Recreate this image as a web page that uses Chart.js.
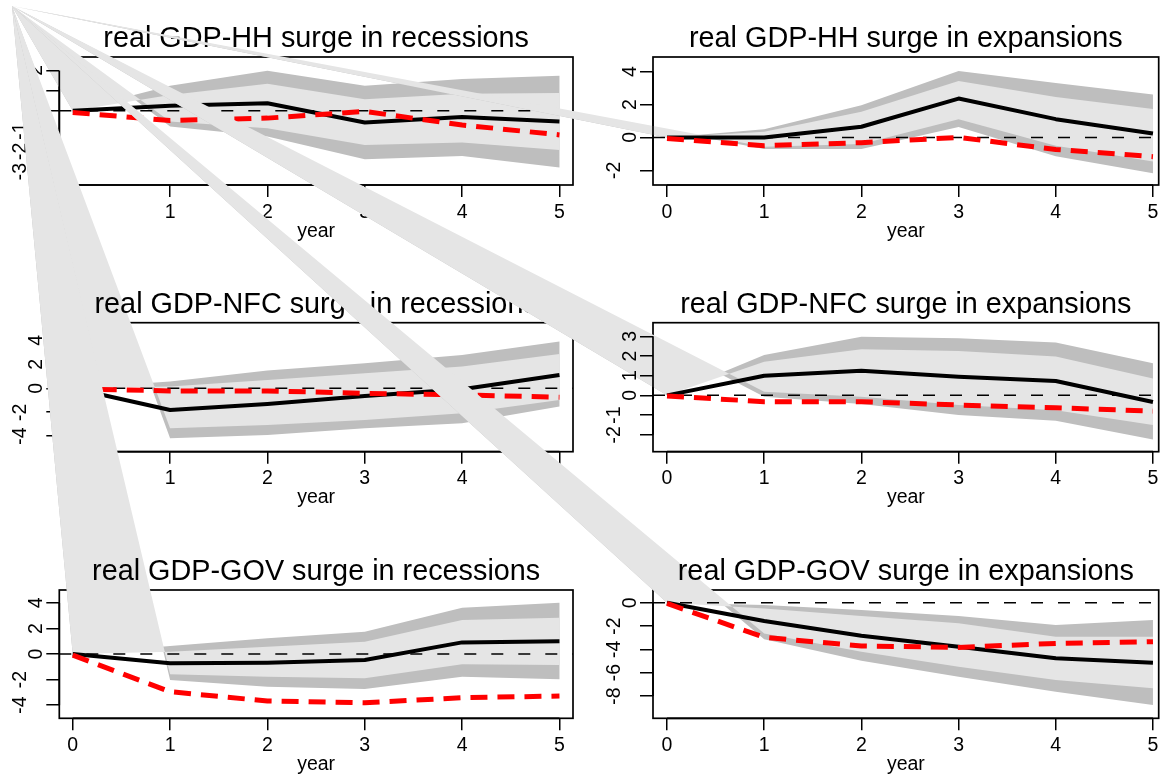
<!DOCTYPE html>
<html>
<head>
<meta charset="utf-8">
<script src="https://cdn.jsdelivr.net/npm/chart.js@4.4.1/dist/chart.umd.min.js"></script>
<style>
  html, body { margin: 0; background: #fff; }
  #page { position: relative; width: 1173px; height: 780px; overflow: hidden; background: #fff; }
  #page canvas { position: absolute; left: 12px; top: 6px; }
</style>
</head>
<body>
<div id="page"></div>
<script>
// horizon (years after the shock)
const years = [0, 1, 2, 3, 4, 5];
const xTickLabels = ["0", "1", "2", "3", "4", "5"];

// real GDP-HH surge in recessions
const hhRecResp    = [0, 0.25, 0.38, -0.58, -0.31, -0.53];
const hhRecAlt     = [-0.08, -0.48, -0.36, -0.03, -0.70, -1.19];
const hhRecOuterHi = [0, 1.24, 1.99, 1.24, 1.57, 1.74];
const hhRecOuterLo = [0, -0.78, -1.27, -2.40, -2.23, -2.80];
const hhRecInnerHi = [0, 0.79, 1.34, 0.58, 0.84, 0.88];
const hhRecInnerLo = [0, -0.53, -0.86, -1.69, -1.57, -1.94];
const hhRecTicks   = [-3, -2, -1, 0, 1, 2];
const hhRecLabels  = ["-3", "-2", "-1", "0", "1", "2"];

// real GDP-HH surge in expansions
const hhExpResp    = [0, 0.0, 0.65, 2.36, 1.11, 0.24];
const hhExpAlt     = [-0.06, -0.50, -0.32, 0.0, -0.73, -1.17];
const hhExpOuterHi = [0, 0.50, 1.96, 4.04, 3.31, 2.61];
const hhExpOuterLo = [0, -0.71, -0.71, 0.64, -1.15, -2.18];
const hhExpInnerHi = [0, 0.34, 1.56, 3.43, 2.46, 1.72];
const hhExpInnerLo = [0, -0.57, -0.40, 1.10, -0.50, -1.47];
const hhExpTicks   = [-2, 0, 2, 4];
const hhExpLabels  = ["-2", "0", "2", "4"];

// real GDP-NFC surge in recessions
const nfcRecResp    = [0, -1.81, -1.31, -0.64, -0.08, 1.11];
const nfcRecAlt     = [-0.05, -0.22, -0.22, -0.42, -0.56, -0.75];
const nfcRecOuterHi = [0, 0.56, 1.48, 2.09, 2.79, 3.90];
const nfcRecOuterLo = [0, -4.18, -3.90, -3.34, -2.92, -1.53];
const nfcRecInnerHi = [0, 0.14, 0.70, 1.25, 1.81, 2.87];
const nfcRecInnerLo = [0, -3.34, -3.06, -2.65, -2.09, -0.97];
const nfcRecTicks   = [-4, -2, 0, 2, 4];
const nfcRecLabels  = ["-4", "-2", "0", "2", "4"];

// real GDP-NFC surge in expansions
const nfcExpResp    = [0, 1.00, 1.25, 0.95, 0.73, -0.34];
const nfcExpAlt     = [-0.03, -0.32, -0.32, -0.49, -0.63, -0.80];
const nfcExpOuterHi = [0, 2.05, 2.98, 2.90, 2.69, 1.63];
const nfcExpOuterLo = [0, -0.07, -0.44, -1.00, -1.29, -2.24];
const nfcExpInnerHi = [0, 1.71, 2.34, 2.25, 1.97, 0.86];
const nfcExpInnerLo = [0, 0.19, -0.07, -0.49, -0.75, -1.51];
const nfcExpTicks   = [-2, -1, 0, 1, 2, 3];
const nfcExpLabels  = ["-2", "-1", "0", "1", "2", "3"];

// real GDP-GOV surge in recessions
const govRecResp    = [0, -0.73, -0.68, -0.47, 0.91, 0.99];
const govRecAlt     = [-0.08, -2.95, -3.68, -3.81, -3.42, -3.29];
const govRecOuterHi = [0, 0.63, 1.23, 1.75, 3.62, 4.02];
const govRecOuterLo = [0, -2.03, -2.56, -2.74, -1.77, -1.98];
const govRecInnerHi = [0, 0.18, 0.57, 0.96, 2.66, 2.84];
const govRecInnerLo = [0, -1.59, -1.77, -1.90, -0.81, -0.86];
const govRecTicks   = [-4, -2, 0, 2, 4];
const govRecLabels  = ["-4", "-2", "0", "2", "4"];

// real GDP-GOV surge in expansions
const govExpResp    = [0, -1.57, -2.83, -3.77, -4.77, -5.14];
const govExpAlt     = [-0.06, -2.97, -3.71, -3.83, -3.49, -3.34];
const govExpOuterHi = [0, -0.20, -0.63, -1.14, -1.91, -1.49];
const govExpOuterLo = [0, -3.14, -4.97, -6.34, -7.63, -8.77];
const govExpInnerHi = [0, -0.49, -1.14, -1.77, -2.91, -2.91];
const govExpInnerLo = [0, -2.63, -4.20, -5.49, -6.63, -7.34];
const govExpTicks   = [-8, -6, -4, -2, 0];
const govExpLabels  = ["-8", "-6", "-4", "-2", "0"];

// page layout (pixels); every canvas covers the page from the device origin
const ORIGIN_X = 12, ORIGIN_Y = 6;
const W = 1173 - ORIGIN_X, H = 780 - ORIGIN_Y;
const X_TICK = 12, Y_TICK = 13;
const FONT = "'Liberation Sans', Arial, Helvetica, sans-serif";
const COLS = [
  { left: 59.3, right: 573, xMin: -0.138, xMax: 5.139 },
  { left: 653, right: 1158.7, xMin: -0.144, xMax: 5.059 }
];
const ROWS = [
  { top: 57, bottom: 185 },
  { top: 322.7, bottom: 451.7 },
  { top: 590, bottom: 718.3 }
];

const panels = [
  { title: "real GDP-HH surge in recessions", col: 0, row: 0, yMin: -3.67, yMax: 2.665,
    resp: hhRecResp, alt: hhRecAlt, outerHi: hhRecOuterHi, outerLo: hhRecOuterLo,
    innerHi: hhRecInnerHi, innerLo: hhRecInnerLo, ticks: hhRecTicks, labels: hhRecLabels },
  { title: "real GDP-HH surge in expansions", col: 1, row: 0, yMin: -2.89, yMax: 4.885,
    resp: hhExpResp, alt: hhExpAlt, outerHi: hhExpOuterHi, outerLo: hhExpOuterLo,
    innerHi: hhExpInnerHi, innerLo: hhExpInnerLo, ticks: hhExpTicks, labels: hhExpLabels },
  { title: "real GDP-NFC surge in recessions", col: 0, row: 1, yMin: -5.3, yMax: 5.48,
    resp: nfcRecResp, alt: nfcRecAlt, outerHi: nfcRecOuterHi, outerLo: nfcRecOuterLo,
    innerHi: nfcRecInnerHi, innerLo: nfcRecInnerLo, ticks: nfcRecTicks, labels: nfcRecLabels },
  { title: "real GDP-NFC surge in expansions", col: 1, row: 1, yMin: -2.86, yMax: 3.69,
    resp: nfcExpResp, alt: nfcExpAlt, outerHi: nfcExpOuterHi, outerLo: nfcExpOuterLo,
    innerHi: nfcExpInnerHi, innerLo: nfcExpInnerLo, ticks: nfcExpTicks, labels: nfcExpLabels },
  { title: "real GDP-GOV surge in recessions", col: 0, row: 2, yMin: -5.03, yMax: 5.01,
    resp: govRecResp, alt: govRecAlt, outerHi: govRecOuterHi, outerLo: govRecOuterLo,
    innerHi: govRecInnerHi, innerLo: govRecInnerLo, ticks: govRecTicks, labels: govRecLabels },
  { title: "real GDP-GOV surge in expansions", col: 1, row: 2, yMin: -9.91, yMax: 1.09,
    resp: govExpResp, alt: govExpAlt, outerHi: govExpOuterHi, outerLo: govExpOuterLo,
    innerHi: govExpInnerHi, innerLo: govExpInnerLo, ticks: govExpTicks, labels: govExpLabels }
];

function toPoints(values) {
  return years.map((x, i) => ({ x: x, y: values[i] }));
}

// frame + confidence bands go under the axes; axis lines, labels and title on top
function panelDecor(p) {
  return {
    id: "panelDecor",
    beforeDraw(chart) {
      const { ctx, chartArea: a, scales: { x, y } } = chart;
      ctx.save();
      ctx.lineWidth = 1.7;
      ctx.strokeStyle = "#000";
      ctx.strokeRect(a.left, a.top, a.right - a.left, a.bottom - a.top);

      const band = (lo, hi, color) => {
        ctx.beginPath();
        // the polygon path opens at the device origin rather than at its first vertex
        ctx.moveTo(0, 0);
        for (let i = 1; i < years.length; i++) {
          ctx.lineTo(x.getPixelForValue(years[i]), y.getPixelForValue(lo[i]));
        }
        for (let i = years.length - 1; i >= 0; i--) {
          ctx.lineTo(x.getPixelForValue(years[i]), y.getPixelForValue(hi[i]));
        }
        ctx.closePath();
        ctx.fillStyle = color;
        ctx.fill();
      };
      band(p.outerLo, p.outerHi, "#bebebe");
      band(p.innerLo, p.innerHi, "#e5e5e5");
      ctx.restore();
    },
    afterDatasetsDraw(chart) {
      const { ctx, chartArea: a, scales: { x, y } } = chart;
      const midX = (a.left + a.right) / 2;
      ctx.save();

      // axis lines run from the first to the last tick
      ctx.lineWidth = 1.7;
      ctx.strokeStyle = "#000";
      ctx.beginPath();
      ctx.moveTo(x.getPixelForValue(years[0]), a.bottom);
      ctx.lineTo(x.getPixelForValue(years[years.length - 1]), a.bottom);
      ctx.moveTo(a.left, y.getPixelForValue(p.ticks[0]));
      ctx.lineTo(a.left, y.getPixelForValue(p.ticks[p.ticks.length - 1]));
      ctx.stroke();

      ctx.fillStyle = "#000";
      ctx.textAlign = "center";
      ctx.textBaseline = "alphabetic";

      ctx.font = "28.8px " + FONT;
      ctx.fillText(p.title, midX, a.top - 10);

      ctx.font = "19.5px " + FONT;
      years.forEach((v, i) => ctx.fillText(xTickLabels[i], x.getPixelForValue(v), a.bottom + 32.5));
      ctx.fillText("year", midX, a.bottom + 51.5);

      p.ticks.forEach((v, i) => {
        const lab = p.labels[i];
        const off = lab.charAt(0) === "-" ? 33 : 17.5;
        ctx.save();
        ctx.translate(a.left - off, y.getPixelForValue(v));
        ctx.rotate(-Math.PI / 2);
        ctx.fillText(lab, 0, 0);
        ctx.restore();
      });
      ctx.restore();
    }
  };
}

const page = document.getElementById("page");

panels.forEach(p => {
  const col = COLS[p.col], row = ROWS[p.row];
  const left = col.left - ORIGIN_X, right = col.right - ORIGIN_X;
  const top = row.top - ORIGIN_Y, bottom = row.bottom - ORIGIN_Y;

  const canvas = document.createElement("canvas");
  canvas.width = W;
  canvas.height = H;
  page.appendChild(canvas);

  new Chart(canvas, {
    type: "line",
    data: {
      datasets: [
        { data: toPoints(p.alt), borderColor: "#ff0000", borderWidth: 5, borderDash: [17, 10] },
        { data: toPoints(p.resp), borderColor: "#000000", borderWidth: 4 },
        { data: [{ x: col.xMin, y: 0 }, { x: col.xMax, y: 0 }], borderColor: "#000000",
          borderWidth: 1.5, borderDash: [12, 15] }
      ]
    },
    options: {
      responsive: false,
      animation: false,
      devicePixelRatio: 1,
      layout: { padding: { left: left - Y_TICK, top: top, right: W - right, bottom: H - bottom - X_TICK } },
      elements: {
        point: { radius: 0 },
        line: { tension: 0, fill: false, borderJoinStyle: "round" }
      },
      plugins: { legend: { display: false }, tooltip: { enabled: false }, title: { display: false } },
      scales: {
        x: {
          type: "linear", min: col.xMin, max: col.xMax,
          afterBuildTicks: s => { s.ticks = years.map(v => ({ value: v })); },
          afterFit: s => { s.height = X_TICK; },
          ticks: { display: false },
          grid: { drawOnChartArea: false, drawTicks: true, tickLength: X_TICK, color: "#000", lineWidth: 1.5 },
          border: { display: false }
        },
        y: {
          type: "linear", min: p.yMin, max: p.yMax,
          afterBuildTicks: s => { s.ticks = p.ticks.map(v => ({ value: v })); },
          afterFit: s => { s.width = Y_TICK; },
          ticks: { display: false },
          grid: { drawOnChartArea: false, drawTicks: true, tickLength: Y_TICK, color: "#000", lineWidth: 1.5 },
          border: { display: false }
        }
      }
    },
    plugins: [panelDecor(p)]
  });
});
</script>
</body>
</html>
